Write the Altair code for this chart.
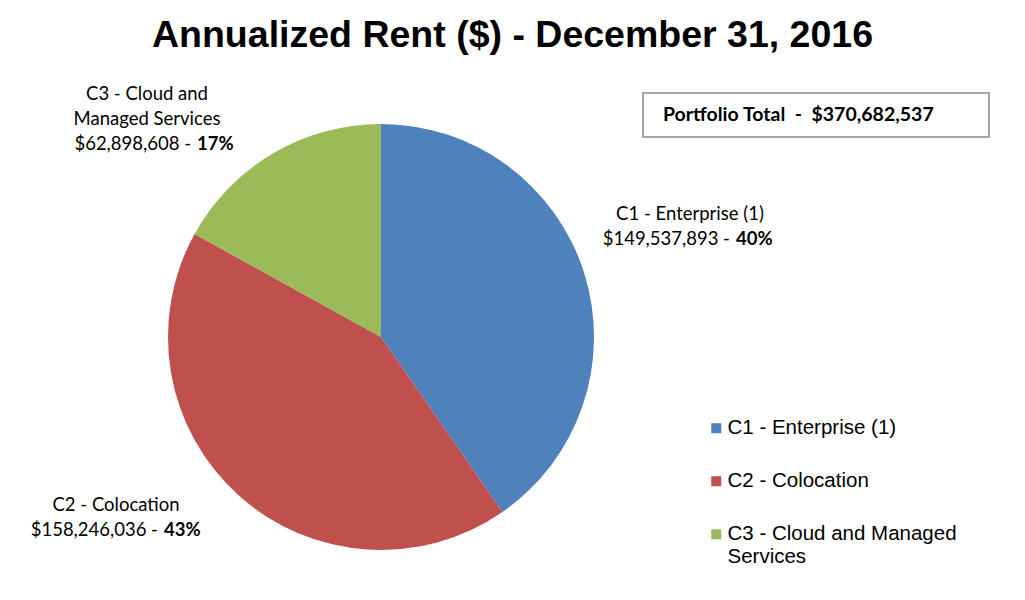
import altair as alt
import pandas as pd

# ---- data ----
categories = ["C1 - Enterprise (1)", "C2 - Colocation", "C3 - Cloud and Managed Services"]
rent = [149537893, 158246036, 62898608]
pct_labels = ["40%", "43%", "17%"]
name_lines = [["C1 - Enterprise (1)"], ["C2 - Colocation"], ["C3 - Cloud and", "Managed Services"]]
colors = ["#4F81BD", "#C0504D", "#9BBB59"]
title_text = "Annualized Rent ($) - December 31, 2016"
total_text = "Portfolio Total\u00a0 -\u00a0 $370,682,537"

# ---- layout (pixel positions of annotations, chart coordinates) ----
label_center_x = [682, 108, 139]
label_first_y = [206, 497, 86]
label_split_x = [722, 150, 183]
line_gap = 25
W, H = 1009, 584
pie_cx, pie_cy, pie_r = 373, 329, 213
label_font = "Lato"
label_size = 18.5

pie_df = pd.DataFrame({"category": categories, "rent": rent})

name_rows, amt_rows, pct_rows = [], [], []
for i, cat in enumerate(categories):
    y = label_first_y[i]
    for ln in name_lines[i]:
        name_rows.append({"t": ln, "x": label_center_x[i], "y": y})
        y += line_gap
    amt_rows.append({"t": f"${rent[i]:,} -", "x": label_split_x[i], "y": y})
    pct_rows.append({"t": pct_labels[i], "x": label_split_x[i] + 6, "y": y})

name_df = pd.DataFrame(name_rows)
amt_df = pd.DataFrame(amt_rows)
pct_df = pd.DataFrame(pct_rows)

color_scale = alt.Scale(domain=categories, range=colors)

pie = alt.Chart(pie_df).mark_arc(radius=pie_r).encode(
    theta=alt.Theta("rent:Q", stack=True),
    color=alt.Color(
        "category:N",
        scale=color_scale,
        sort=categories,
        legend=alt.Legend(
            orient="none",
            legendX=698,
            legendY=410,
            title=None,
            symbolType="square",
            symbolSize=100,
            symbolStrokeWidth=0,
            labelFont="Liberation Sans",
            labelFontSize=20.5,
            labelColor="black",
            labelOffset=1,
            labelLimit=500,
            rowPadding=32,
            labelExpr="datum.label == 'C3 - Cloud and Managed Services' ? ['C3 - Cloud and Managed', 'Services'] : datum.label",
        ),
    ),
    order=alt.Order("category:N"),
    x=alt.value(pie_cx),
    y=alt.value(pie_cy),
)

def txt(df, align, weight):
    return alt.Chart(df).mark_text(
        align=align, baseline="middle", font=label_font, fontSize=label_size,
        fontWeight=weight, color="black",
    ).encode(
        x=alt.X("x:Q", scale=None),
        y=alt.Y("y:Q", scale=None),
        text="t:N",
    )

names = txt(name_df, "center", "normal")
amts = txt(amt_df, "right", "normal")
pcts = txt(pct_df, "left", "bold")

box_df = pd.DataFrame({"t": [total_text]})
box = alt.Chart(box_df).mark_rect(fill="white", stroke="#A6A6A6", strokeWidth=2).encode(
    x=alt.value(635), x2=alt.value(981), y=alt.value(85), y2=alt.value(129)
)
box_text = alt.Chart(box_df).mark_text(
    align="left", baseline="middle", font=label_font, fontSize=19.5, fontWeight="bold", color="black"
).encode(x=alt.value(655), y=alt.value(107), text="t:N")

title_df = pd.DataFrame({"t": [title_text]})
title = alt.Chart(title_df).mark_text(
    align="center", baseline="alphabetic", font="Liberation Sans", fontSize=37.5,
    fontWeight="bold", color="black"
).encode(x=alt.value(W / 2), y=alt.value(39), text="t:N")

chart = alt.layer(pie, names, amts, pcts, box, box_text, title).properties(
    width=W, height=H, autosize="none", padding=0, background="white"
).configure_view(stroke=None)

chart.save("out.html", embed_options={"renderer": "svg", "actions": False})
